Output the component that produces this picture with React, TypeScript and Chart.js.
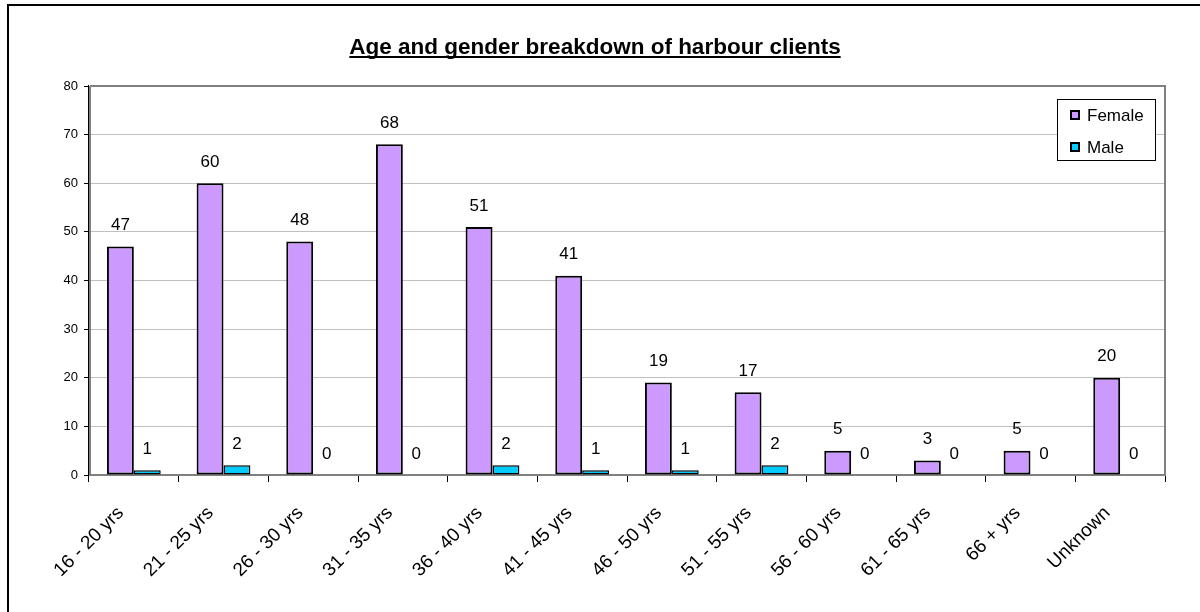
import React, { useEffect, useRef } from "react";
import { Chart, registerables } from "chart.js";

Chart.register(...registerables);

const categories = [
  "16 - 20 yrs", "21 - 25 yrs", "26 - 30 yrs", "31 - 35 yrs", "36 - 40 yrs", "41 - 45 yrs",
  "46 - 50 yrs", "51 - 55 yrs", "56 - 60 yrs", "61 - 65 yrs", "66 + yrs", "Unknown",
];
const female = [47, 60, 48, 68, 51, 41, 19, 17, 5, 3, 5, 20];
const male = [1, 2, 0, 0, 2, 1, 1, 2, 0, 0, 0, 0];
const yTicks = [0, 10, 20, 30, 40, 50, 60, 70, 80];
const titleText = "Age and gender breakdown of harbour clients";

const FONT = "Arial, 'Liberation Sans', sans-serif";

const framePlugin = {
  id: "frame",
  beforeDraw(chart: any) {
    const ctx = chart.ctx;
    ctx.save();
    ctx.fillStyle = "#ffffff";
    ctx.fillRect(0, 0, chart.width, chart.height);
    ctx.strokeStyle = "#000000";
    ctx.lineWidth = 2;
    ctx.strokeRect(8, 5, chart.width + 20, chart.height + 20);
    // title
    ctx.font = `bold 22.5px ${FONT}`;
    ctx.fillStyle = "#000";
    ctx.textAlign = "center";
    ctx.textBaseline = "alphabetic";
    const cx = 595;
    ctx.fillText(titleText, cx, 54);
    const w = ctx.measureText(titleText).width;
    ctx.fillRect(cx - w / 2, 56, w, 2);
    ctx.restore();
  },
  beforeDatasetsDraw(chart: any) {
    const { ctx, chartArea: a } = chart;
    ctx.save();
    ctx.strokeStyle = "#808080";
    ctx.lineWidth = 2;
    ctx.beginPath();
    ctx.moveTo(a.left + 1, a.top);
    ctx.lineTo(a.right, a.top);
    ctx.lineTo(a.right, a.bottom);
    ctx.lineTo(a.left + 1, a.bottom);
    ctx.lineTo(a.left + 1, a.top);
    ctx.stroke();
    ctx.strokeStyle = "#000";
    ctx.lineWidth = 1;
    ctx.beginPath();
    ctx.moveTo(a.left - 0.5, a.top - 1);
    ctx.lineTo(a.left - 0.5, a.bottom + 1);
    ctx.stroke();
    ctx.restore();
  },
  afterDatasetsDraw(chart: any) {
    const ctx = chart.ctx;
    ctx.save();
    ctx.font = `17px ${FONT}`;
    ctx.fillStyle = "#000";
    ctx.textAlign = "center";
    ctx.textBaseline = "middle";
    chart.data.datasets.forEach((ds: any, i: number) => {
      const meta = chart.getDatasetMeta(i);
      meta.data.forEach((el: any, j: number) => {
        ctx.fillText(String(ds.data[j]), el.x, el.y - 21);
      });
    });
    // legend
    const lx = 1057, ly = 99, lw = 98, lh = 61;
    ctx.fillStyle = "#fff";
    ctx.fillRect(lx, ly, lw, lh);
    ctx.strokeStyle = "#000";
    ctx.lineWidth = 1;
    ctx.strokeRect(lx + 0.5, ly + 0.5, lw, lh);
    ctx.textAlign = "left";
    chart.data.datasets.forEach((ds: any, i: number) => {
      const cy = 115 + i * 32;
      ctx.fillStyle = ds.backgroundColor;
      ctx.fillRect(1070, cy - 5, 10, 10);
      ctx.strokeStyle = "#000";
      ctx.lineWidth = 2;
      ctx.strokeRect(1071, cy - 4, 8, 8);
      ctx.fillStyle = "#000";
      ctx.font = `17px ${FONT}`;
      ctx.fillText(ds.label, 1087, cy + 1);
    });
    ctx.restore();
  },
};

export default function App() {
  const ref = useRef<HTMLCanvasElement>(null);
  useEffect(() => {
    document.body.style.margin = "0";
    document.body.style.overflow = "hidden";
    const chart = new Chart(ref.current!, {
      type: "bar",
      data: {
        labels: categories,
        datasets: [
          {
            label: "Female",
            data: female,
            backgroundColor: "#CC99FF",
            borderColor: "#000000",
            borderWidth: (c: any) => (c.raw === 0 ? 0 : 2),
            borderSkipped: false,
            categoryPercentage: 0.6,
            barPercentage: 1,
          },
          {
            label: "Male",
            data: male,
            backgroundColor: "#00CCFF",
            borderColor: "#000000",
            borderWidth: (c: any) => (c.raw === 0 ? 0 : 1.5),
            borderSkipped: false,
            categoryPercentage: 0.6,
            barPercentage: 1,
          },
        ],
      },
      options: {
        responsive: false,
        animation: false,
        devicePixelRatio: 1,
        layout: { padding: { top: 86, right: 35, left: 0, bottom: 0 } },
        plugins: {
          legend: { display: false },
          title: { display: false },
          tooltip: { enabled: false },
        },
        scales: {
          x: {
            offset: true,
            grid: {
              offset: true,
              drawOnChartArea: false,
              drawTicks: true,
              tickLength: 7,
              tickColor: "#000",
              color: "#000",
            },
            border: { display: true, color: "#808080", width: 2 },
            ticks: {
              color: "#000",
              font: { family: FONT, size: 19 },
              minRotation: 45,
              maxRotation: 45,
              autoSkip: false,
              padding: 20,
              labelOffset: -13,
            },
            afterFit: (s: any) => {
              s.height = 612 - 475;
            },
          },
          y: {
            min: 0,
            max: 80,
            afterBuildTicks: (s: any) => {
              s.ticks = yTicks.map((v) => ({ value: v }));
            },
            grid: {
              color: "#c0c0c0",
              lineWidth: 1,
              drawTicks: true,
              tickLength: 5,
              tickColor: "#000",
            },
            border: { display: false },
            ticks: {
              color: "#000",
              font: { family: FONT, size: 13 },
              padding: 6,
            },
            afterFit: (s: any) => {
              s.width = 89;
            },
          },
        },
      },
      plugins: [framePlugin],
    });
    return () => chart.destroy();
  }, []);
  return (
    <div style={{ position: "absolute", left: 0, top: 0, width: 1200, height: 612 }}>
      <canvas ref={ref} width={1200} height={612} style={{ display: "block" }} />
    </div>
  );
}
